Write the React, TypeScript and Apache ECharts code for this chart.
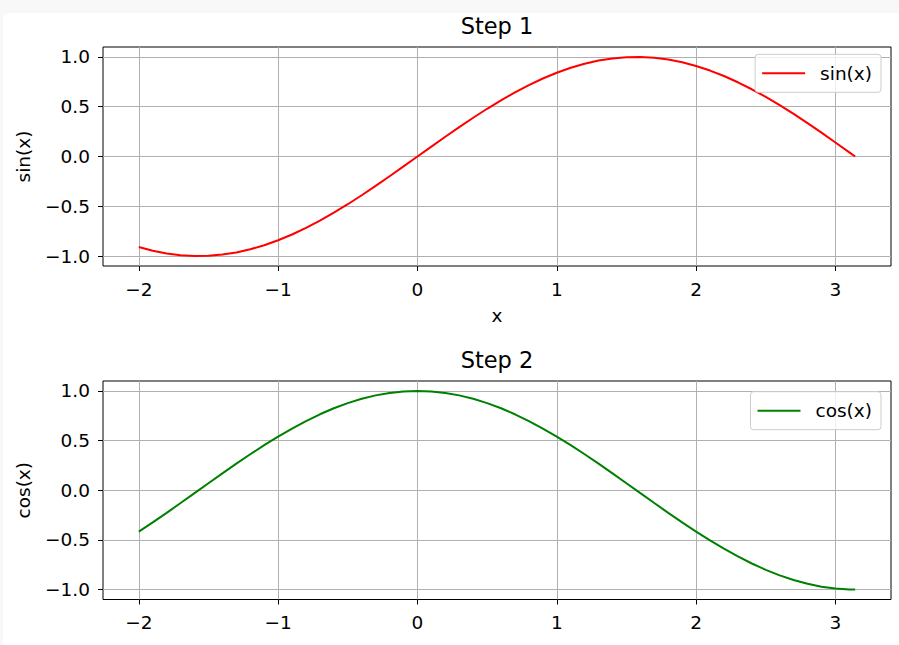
import React, { useEffect, useRef } from "react";
import * as echarts from "echarts";

const xValues = [
  -2.0, -1.9, -1.8, -1.7, -1.6, -1.5, -1.4, -1.3, -1.2, -1.1, -1.0, -0.9, -0.8, -0.7, -0.6, -0.5, -0.4, -0.3, -0.2, -0.1,
  0.0, 0.1, 0.2, 0.3, 0.4, 0.5, 0.6, 0.7, 0.8, 0.9, 1.0, 1.1, 1.2, 1.3, 1.4, 1.5, 1.6, 1.7, 1.8, 1.9,
  2.0, 2.1, 2.2, 2.3, 2.4, 2.5, 2.6, 2.7, 2.8, 2.9, 3.0, 3.1, 3.1416,
];

const sinValues = [
  -0.9093, -0.9463, -0.9738, -0.9917, -0.9996, -0.9975, -0.9854, -0.9636, -0.932, -0.8912, -0.8415, -0.7833, -0.7174,
  -0.6442, -0.5646, -0.4794, -0.3894, -0.2955, -0.1987, -0.0998, 0.0, 0.0998, 0.1987, 0.2955, 0.3894, 0.4794, 0.5646,
  0.6442, 0.7174, 0.7833, 0.8415, 0.8912, 0.932, 0.9636, 0.9854, 0.9975, 0.9996, 0.9917, 0.9738, 0.9463, 0.9093,
  0.8632, 0.8085, 0.7457, 0.6755, 0.5985, 0.5155, 0.4274, 0.335, 0.2392, 0.1411, 0.0416, 0.0,
];

const cosValues = [
  -0.4161, -0.3233, -0.2272, -0.1288, -0.0292, 0.0707, 0.17, 0.2675, 0.3624, 0.4536, 0.5403, 0.6216, 0.6967, 0.7648,
  0.8253, 0.8776, 0.9211, 0.9553, 0.9801, 0.995, 1.0, 0.995, 0.9801, 0.9553, 0.9211, 0.8776, 0.8253, 0.7648, 0.6967,
  0.6216, 0.5403, 0.4536, 0.3624, 0.2675, 0.17, 0.0707, -0.0292, -0.1288, -0.2272, -0.3233, -0.4161, -0.5048, -0.5885,
  -0.6663, -0.7374, -0.8011, -0.8569, -0.9041, -0.9422, -0.971, -0.99, -0.9991, -1.0,
];

const xTicks = [-2, -1, 0, 1, 2, 3];
const yTicks = [-1.0, -0.5, 0.0, 0.5, 1.0];
const titles = ["Step 1", "Step 2"];
const seriesNames = ["sin(x)", "cos(x)"];
const seriesColors = ["#ff0000", "#008000"];

const FONT = "DejaVu Sans";
const TICK_FS = 18.5;
const fmtX = (v: number) => String(Math.round(v)).replace("-", "\u2212");
const fmtY = (v: number) => v.toFixed(1).replace("-", "\u2212");

export default function App() {
  const ref = useRef<HTMLDivElement>(null);
  useEffect(() => {
    document.body.style.margin = "0";
    const chart = echarts.init(ref.current!, null, { renderer: "svg" });
    const grids = [
      { left: 103, top: 47, width: 788, height: 219 },
      { left: 103, top: 381, width: 788, height: 218.5 },
    ];
    const xAxis = grids.map((_, i) => ({
      type: "value",
      gridIndex: i,
      min: -2.257,
      max: 3.399,
      name: i === 0 ? "x" : "",
      nameLocation: "middle",
      nameGap: 39.5,
      nameTextStyle: { fontFamily: FONT, fontSize: TICK_FS, color: "#000" },
      axisLine: { show: false, onZero: false },
      axisTick: { show: true, length: 5, customValues: xTicks, lineStyle: { color: "#000", width: 1 } },
      axisLabel: {
        customValues: xTicks,
        formatter: fmtX,
        margin: 13.5,
        fontFamily: FONT,
        fontSize: TICK_FS,
        color: "#000",
      },
      splitLine: { show: true, lineStyle: { color: "#b0b0b0", width: 1 } },
    }));
    const yAxis = grids.map((_, i) => ({
      type: "value",
      gridIndex: i,
      min: -1.1,
      max: 1.1,
      name: seriesNames[i],
      nameLocation: "middle",
      nameGap: 70,
      nameTextStyle: { fontFamily: FONT, fontSize: TICK_FS, color: "#000" },
      axisLine: { show: false, onZero: false },
      axisTick: { show: true, length: 5, customValues: yTicks, lineStyle: { color: "#000", width: 1 } },
      axisLabel: {
        customValues: yTicks,
        formatter: fmtY,
        margin: 13,
        fontFamily: FONT,
        fontSize: TICK_FS,
        color: "#000",
      },
      splitLine: { show: true, lineStyle: { color: "#b0b0b0", width: 1 } },
    }));
    const series = [sinValues, cosValues].map((vals, i) => ({
      type: "line",
      name: seriesNames[i],
      xAxisIndex: i,
      yAxisIndex: i,
      data: xValues.map((x, j) => [x, vals[j]]),
      showSymbol: false,
      symbol: "none",
      smooth: false,
      lineStyle: { color: seriesColors[i], width: 2 },
      itemStyle: { color: seriesColors[i] },
      z: 5,
    }));
    const legendTops = [54.3, 391.7];
    const legends = [0, 1].map((i) => ({
      data: [seriesNames[i]],
      right: 899 - 881,
      top: legendTops[i],
      orient: "vertical",
      icon: "rect",
      itemWidth: 43,
      itemHeight: 2,
      padding: [9.5, 9, 9.5, 7],
      backgroundColor: "rgba(255,255,255,0.8)",
      borderColor: "#cccccc",
      borderWidth: 1,
      borderRadius: 3,
      textStyle: { fontFamily: FONT, fontSize: TICK_FS, color: "#000", padding: [0, 0, 0, 10] },
      z: 10,
    }));
    chart.setOption({
      animation: false,
      backgroundColor: "transparent",
      title: titles.map((t, i) => ({
        text: t,
        left: 497,
        textAlign: "center",
        top: i === 0 ? 14 : 348,
        padding: 0,
        textStyle: { fontFamily: FONT, fontSize: 22.5, fontWeight: "normal", color: "#000" },
      })),
      legend: legends,
      grid: grids.map((g) => ({
        ...g,
        show: true,
        backgroundColor: "#fff",
        borderColor: "#000",
        borderWidth: 1,
        containLabel: false,
      })),
      xAxis,
      yAxis,
      series,
    });
    return () => chart.dispose();
  }, []);
  return (
    <div style={{ position: "relative", width: 899, height: 645, background: "#f8f8f8", overflow: "hidden" }}>
      <div
        style={{
          position: "absolute",
          left: 3,
          top: 13,
          width: 900,
          height: 640,
          background: "#fff",
          borderRadius: 6,
        }}
      />
      <div ref={ref} style={{ position: "absolute", left: 0, top: 0, width: 899, height: 645 }} />
    </div>
  );
}
